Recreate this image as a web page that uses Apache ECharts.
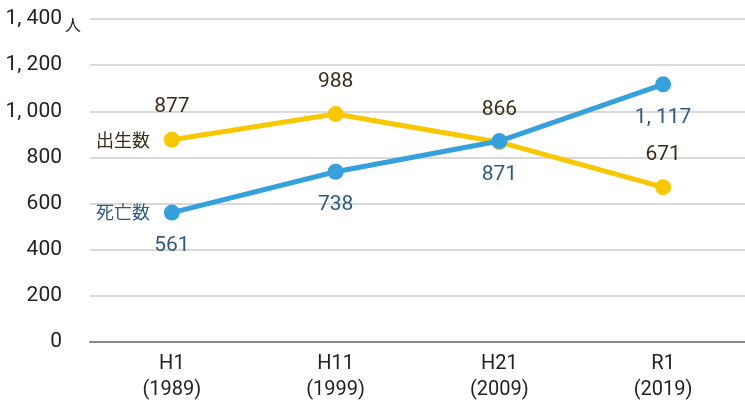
<!DOCTYPE html>
<html>
<head>
<meta charset="utf-8">
<script src="https://cdn.jsdelivr.net/npm/echarts@6/dist/echarts.min.js"></script>
<style>
  html, body { margin: 0; padding: 0; background: #fff; }
  #main { width: 745px; height: 403px; }
</style>
</head>
<body>
<div id="main"></div>
<script>
var categories = ['H1\n(1989)', 'H11\n(1999)', 'H21\n(2009)', 'R1\n(2019)'];
var births = [877, 988, 866, 671];
var deaths = [561, 738, 871, 1117];
var yTicks = [0, 200, 400, 600, 800, 1000, 1200, 1400];

var FONT = "Roboto, 'Noto Sans CJK JP', sans-serif";
var CJK = "'Noto Sans CJK JP', sans-serif";
var YELLOW = '#f9c700';
var BLUE = '#36a0dc';

function fmt(v) {
    var s = String(v);
    if (v >= 1000) s = s.slice(0, s.length - 3) + ', ' + s.slice(-3);
    return s;
}

var chart = echarts.init(document.getElementById('main'));
chart.setOption({
    animation: false,
    grid: { left: 90, right: 0, top: 19, bottom: 60 },
    xAxis: {
        type: 'category',
        data: categories,
        boundaryGap: true,
        axisLine: { lineStyle: { color: '#8a8a8a', width: 2 } },
        axisTick: { alignWithLabel: true, length: 6, lineStyle: { color: '#8a8a8a', width: 1 } },
        axisLabel: { color: '#222', fontFamily: FONT, fontSize: 20, lineHeight: 26, margin: 9 }
    },
    yAxis: {
        type: 'value',
        min: yTicks[0],
        max: yTicks[yTicks.length - 1],
        interval: 200,
        axisLine: { show: false },
        axisTick: { show: false },
        axisLabel: { color: '#222', fontFamily: FONT, fontSize: 21, margin: 28, formatter: fmt },
        splitLine: { lineStyle: { color: '#d9d9d9', width: 2 } }
    },
    graphic: [{
        type: 'text', left: 65, top: 17,
        style: { text: '人', fill: '#222', font: '16px ' + CJK }
    }],
    series: [{
        name: '出生数',
        type: 'line',
        data: births,
        symbol: 'circle',
        symbolSize: 16,
        lineStyle: { color: YELLOW, width: 5 },
        itemStyle: { color: YELLOW },
        label: {
            show: true, position: 'top', distance: 14,
            color: '#3b2e17', fontFamily: FONT, fontSize: 21,
            formatter: function (p) { return fmt(p.value); }
        },
        markPoint: {
            symbol: 'circle', symbolSize: 0,
            data: [{ coord: [0, births[0]] }],
            label: { show: true, position: 'left', distance: 22, formatter: '出生数', color: '#3b2e17', fontFamily: CJK, fontSize: 18 }
        },
        z: 2
    }, {
        name: '死亡数',
        type: 'line',
        data: deaths,
        symbol: 'circle',
        symbolSize: 16,
        lineStyle: { color: BLUE, width: 5 },
        itemStyle: { color: BLUE },
        label: {
            show: true, position: 'bottom', distance: 15,
            color: '#2f5a80', fontFamily: FONT, fontSize: 21,
            formatter: function (p) { return fmt(p.value); }
        },
        markPoint: {
            symbol: 'circle', symbolSize: 0,
            data: [{ coord: [0, deaths[0]] }],
            label: { show: true, position: 'left', distance: 22, formatter: '死亡数', color: '#2f5a80', fontFamily: CJK, fontSize: 18 }
        },
        z: 3
    }]
});
</script>
</body>
</html>
